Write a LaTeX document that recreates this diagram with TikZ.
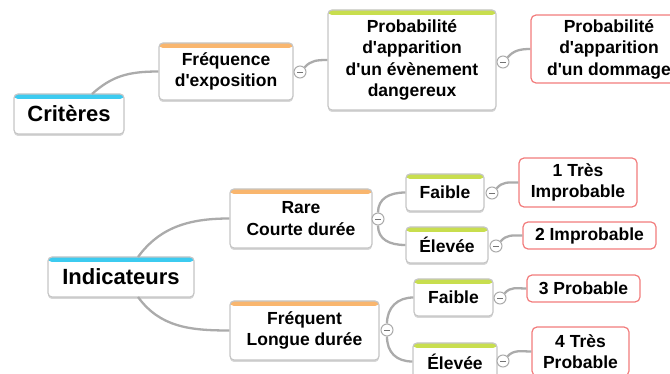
\documentclass[tikz,border=0pt]{standalone}
\usepackage{fontspec}
\setmainfont{Liberation Sans}
\usetikzlibrary{shadows}
\definecolor{linegray}{HTML}{ABABAB}
\definecolor{boxgray}{HTML}{C6C6C6}
\definecolor{barcyan}{HTML}{3CCBF0}
\definecolor{barorange}{HTML}{F9B66E}
\definecolor{bargreen}{HTML}{C8DE4E}
\definecolor{redline}{HTML}{F27C7C}
\newcommand{\apos}{\textquotesingle}
\begin{document}
\begin{tikzpicture}[x=1pt,y=-1pt,
  box/.style={draw=boxgray, line width=1.2pt, fill=white, rounded corners=4pt, inner sep=0pt, align=center,
    font={\bfseries\fontsize{17.5}{21.5}\selectfont},
    drop shadow={shadow xshift=0pt, shadow yshift=-2pt, opacity=0.35, fill=black!45}},
  bar/.style={path picture={\fill[#1] ([yshift=2pt]path picture bounding box.north west) rectangle ([yshift=-5pt]path picture bounding box.north east);}},
  rootbox/.style={box, font={\bfseries\fontsize{22}{26}\selectfont}},
  leaf/.style={draw=redline, line width=1.2pt, fill=white, rounded corners=5pt, inner sep=0pt, align=center,
    font={\bfseries\fontsize{17.5}{21.5}\selectfont}},
  tog/.style={circle, draw=linegray, line width=1pt, fill=white, minimum size=12pt, inner sep=0pt,
    path picture={\draw[black!55, line width=0.9pt] ([xshift=-3pt]path picture bounding box.center) -- ([xshift=3pt]path picture bounding box.center);}},
  conn/.style={draw=linegray, line width=2.3pt}
]
\useasboundingbox (0,0) rectangle (670,374);
\clip (0,0) rectangle (670,374);

\coordinate (critout) at (92,94);
\coordinate (indtop) at (138,257);
\coordinate (indbot) at (138,297);

% nodes
\node[rootbox, bar=barcyan, minimum width=110pt, minimum height=40pt] (crit) at (69,114) {Critères};
\node[box, bar=barorange, minimum width=134pt, minimum height=57pt] (freq) at (226,71.5) {Fréquence\\d\apos exposition};
\node[box, bar=bargreen, minimum width=168pt, minimum height=100pt] (evt) at (412,60) {Probabilité\\d\apos apparition\\d\apos un évènement\\dangereux};
\node[leaf, minimum width=156pt, minimum height=68pt] (dom) at (609,49) {Probabilité\\d\apos apparition\\d\apos un dommage};

\node[rootbox, bar=barcyan, minimum width=146pt, minimum height=40pt] (ind) at (121,277) {Indicateurs};
\node[box, bar=barorange, minimum width=142pt, minimum height=59pt] (rare) at (301,218.5) {Rare\\Courte durée};
\node[box, bar=barorange, minimum width=149pt, minimum height=59pt] (freqt) at (304.5,330.5) {Fréquent\\Longue durée};

\node[box, bar=bargreen, minimum width=78pt, minimum height=37pt] (f1) at (445,192.5) {Faible};
\node[box, bar=bargreen, minimum width=82pt, minimum height=36pt] (e1) at (447,245) {Élevée};
\node[box, bar=bargreen, minimum width=79pt, minimum height=37pt] (f2) at (453.5,297.5) {Faible};
\node[box, bar=bargreen, minimum width=84pt, minimum height=37pt] (e2) at (455,361.5) {Élevée};

\node[leaf, minimum width=118pt, minimum height=49pt] (r1) at (578,182.5) {1 Très\\Improbable};
\node[leaf, minimum width=133pt, minimum height=27pt] (r2) at (589.5,235.5) {2 Improbable};
\node[leaf, minimum width=113pt, minimum height=27pt] (r3) at (583.5,288.5) {3 Probable};
\node[leaf, minimum width=97pt, minimum height=49pt] (r4) at (580.5,351.5) {4 Très\\Probable};

% toggles
\node[tog] (c1) at (300,72) {};
\node[tog] (c2) at (503,62) {};
\node[tog] (crare) at (378,219) {};
\node[tog] (cfreq) at (387,330) {};
\node[tog] (cf1) at (492,193) {};
\node[tog] (ce1) at (496,246) {};
\node[tog] (cf2) at (500,298) {};
\node[tog] (ce2) at (503,361) {};

% connectors
\draw[conn] (critout) .. controls +(20,-18) and +(-30,0) .. (freq.west);
\draw[conn] (c1.north east) .. controls +(6,-7) and +(-10,0) .. (evt.west);
\draw[conn] (c2.north east) .. controls +(6,-7) and +(-10,0) .. (dom.west);
\draw[conn] (indtop) .. controls +(22,-30) and +(-40,0) .. (rare.west);
\draw[conn] (indbot) .. controls +(22,30) and +(-40,0) .. (freqt.west);
\draw[conn] (crare.north) .. controls +(0,-14) and +(-16,0) .. (f1.west);
\draw[conn] (crare.south) .. controls +(0,14) and +(-16,0) .. (e1.west);
\draw[conn] (cfreq.north) .. controls +(0,-16) and +(-16,0) .. (f2.west);
\draw[conn] (cfreq.south) .. controls +(0,16) and +(-16,0) .. (e2.west);
\draw[conn] (cf1.north east) .. controls +(6,-7) and +(-10,0) .. (r1.west);
\draw[conn] (ce1.north east) .. controls +(6,-7) and +(-10,0) .. (r2.west);
\draw[conn] (cf2.north east) .. controls +(6,-7) and +(-10,0) .. (r3.west);
\draw[conn] (ce2.north east) .. controls +(6,-7) and +(-10,0) .. (r4.west);
\end{tikzpicture}
\end{document}
